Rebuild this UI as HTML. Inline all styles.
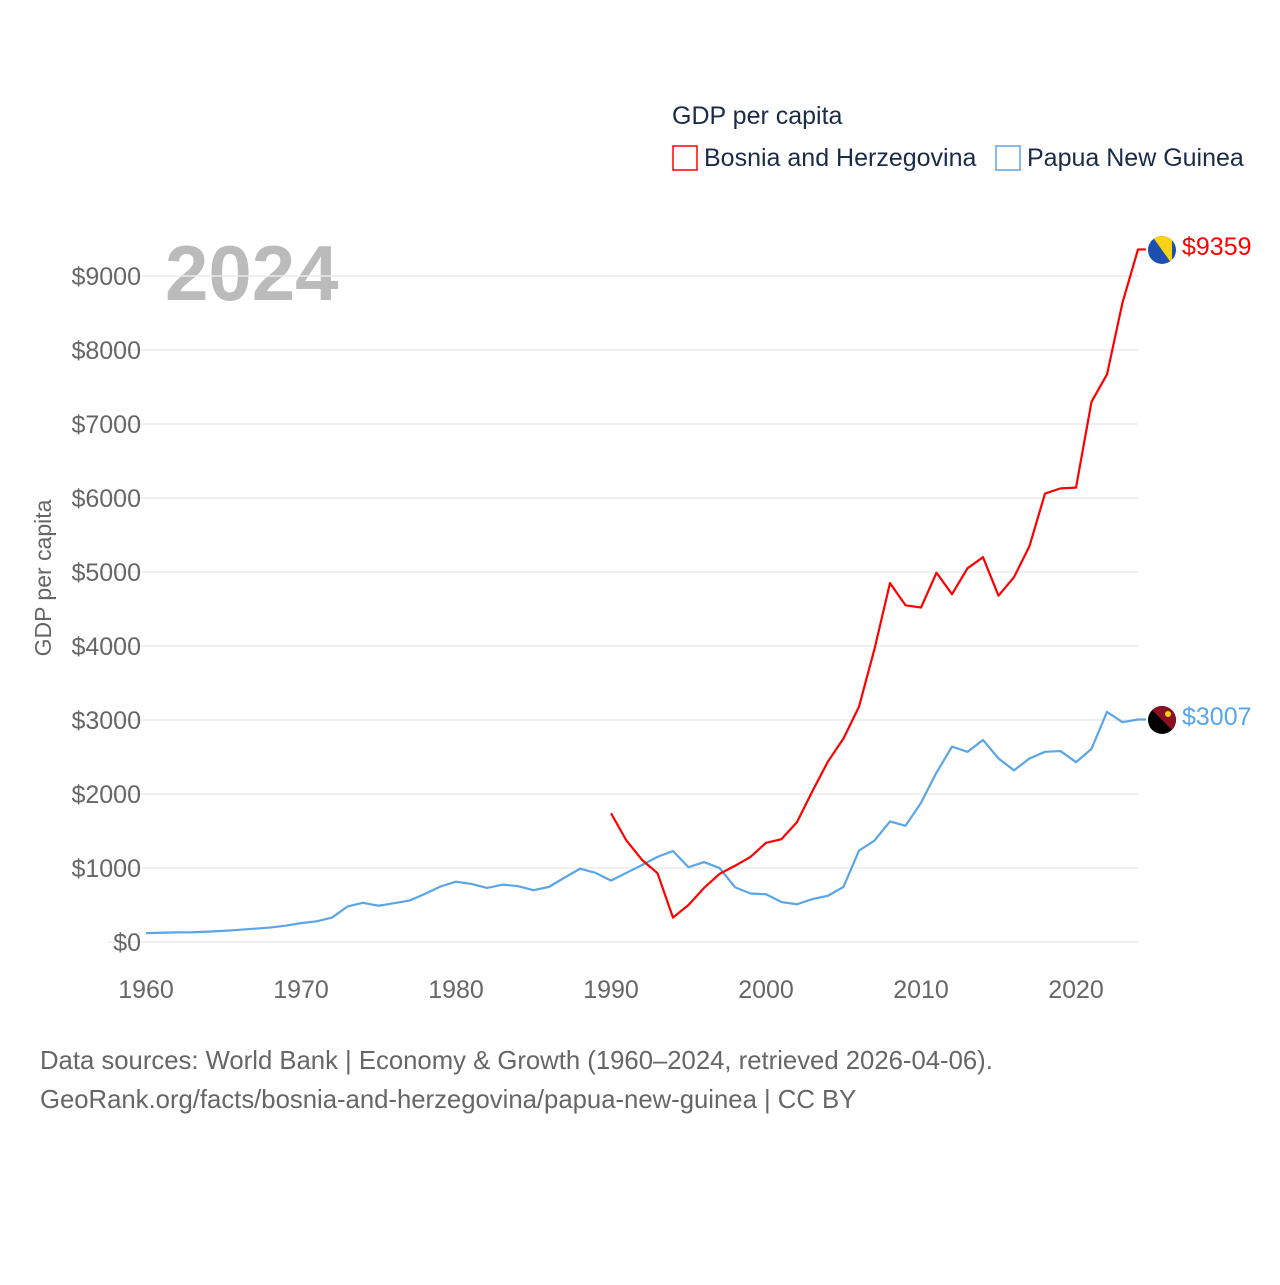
<!DOCTYPE html>
<html><head><meta charset="utf-8"><style>
body{margin:0;background:#fff;font-family:"Liberation Sans",sans-serif}
svg text{font-family:"Liberation Sans",sans-serif}
</style></head><body>
<svg id="c" width="1280" height="1280" xmlns="http://www.w3.org/2000/svg">
<text x="672" y="124" font-size="25" fill="#1a2b4a">GDP per capita</text>
<g><rect x="673" y="146" width="24" height="24" fill="none" stroke="#ff0000" stroke-width="1.5"/><text x="704" y="166" font-size="25" fill="#1a2b4a">Bosnia and Herzegovina</text></g>
<g><rect x="996" y="146" width="24" height="24" fill="none" stroke="#5aa5e8" stroke-width="1.5"/><text x="1027" y="166" font-size="25" fill="#1a2b4a">Papua New Guinea</text></g>
<text x="165" y="300" font-size="78" font-weight="bold" fill="#bbbbbb">2024</text>
<text transform="translate(51,578) rotate(-90)" text-anchor="middle" font-size="23" fill="#666">GDP per capita</text>
<g id="grid"></g><g id="yt"></g><g id="xt"></g><g id="lines"></g>
<g><clipPath id="cb"><circle cx="1162" cy="250" r="14"/></clipPath><g clip-path="url(#cb)"><rect x="1148" y="236" width="28" height="28" fill="#1d4fb3"/><polygon points="1152,236 1172,236 1172,264" fill="#fcd116"/></g></g>
<g><clipPath id="cp"><circle cx="1162" cy="720" r="14"/></clipPath><g clip-path="url(#cp)"><rect x="1148" y="706" width="28" height="28" fill="#000"/><polygon points="1148,706 1176,706 1176,734" fill="#8b1020"/><circle cx="1168" cy="714" r="3" fill="#fcd116"/></g></g>
<text x="1182" y="255" font-size="25" fill="#ff0000">$9359</text>
<text x="1182" y="725" font-size="25" fill="#5aa5e8">$3007</text>
<text x="40" y="1069" font-size="25.7" fill="#666">Data sources: World Bank | Economy &amp; Growth (1960–2024, retrieved 2026-04-06).</text>
<text x="40" y="1108" font-size="25.7" fill="#666">GeoRank.org/facts/bosnia-and-herzegovina/papua-new-guinea | CC BY</text>
</svg>
<script>
const yTicks=[0,1000,2000,3000,4000,5000,6000,7000,8000,9000];
const xTicks=[1960,1970,1980,1990,2000,2010,2020];
const pngYears=[];for(let y=1960;y<=2024;y++)pngYears.push(y);
const pngValues=[120,125,130,132,140,150,165,180,195,220,255,280,330,480,530,490,525,560,650,750,815,785,730,775,755,700,745,870,990,935,830,935,1040,1150,1230,1010,1080,1000,740,655,645,540,510,580,625,745,1235,1370,1630,1570,1880,2290,2640,2570,2730,2480,2320,2480,2570,2580,2430,2610,3110,2970,3007];
const bihYears=[];for(let y=1990;y<=2024;y++)bihYears.push(y);
const bihValues=[1740,1370,1110,930,330,500,730,920,1030,1150,1340,1390,1620,2040,2440,2750,3180,3960,4850,4550,4520,4990,4700,5050,5200,4680,4930,5350,6060,6130,6140,7300,7670,8640,9359];
const X=y=>146+(y-1960)*15.5, Y=v=>942-v*0.074;
const NS="http://www.w3.org/2000/svg";
function mk(t,a,p){const e=document.createElementNS(NS,t);for(const k in a)e.setAttribute(k,a[k]);document.getElementById(p).appendChild(e);return e;}
yTicks.forEach(v=>{
 const l=mk('line',{x1:108,x2:1138,y1:Y(v),y2:Y(v),stroke:'#ebebeb','stroke-width':1.5},'grid');
 
 
 const t=mk('text',{x:141,y:Y(v)+9,'text-anchor':'end','font-size':25,fill:'#666'},'yt');t.textContent='$'+v;
 
 
});
xTicks.forEach(v=>{
 const t=mk('text',{x:X(v),y:998,'text-anchor':'middle','font-size':25,fill:'#666'},'xt');t.textContent=v;
 
 
});
function line(ys,vs,c,n){
 const d=ys.map((y,i)=>(i?'L':'M')+X(y)+','+Y(vs[i])).join(' ')+' L'+(X(ys[ys.length-1])+8)+','+Y(vs[vs.length-1]);
 const p=mk('path',{d:d,fill:'none',stroke:c,'stroke-width':2.2,'stroke-linejoin':'round'},'lines');
 
 
}
line(pngYears,pngValues,'#5aa5e8','png-line');
line(bihYears,bihValues,'#ff0000','bih-line');
</script>
</body></html>
